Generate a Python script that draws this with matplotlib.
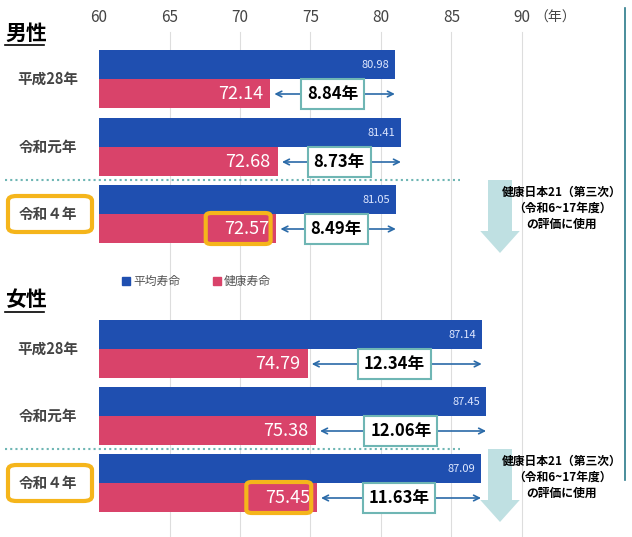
import matplotlib.pyplot as plt
from matplotlib.patches import FancyBboxPatch, FancyArrow

plt.rcParams['font.family'] = 'Noto Sans CJK JP'

years = ['平成28年', '令和元年', '令和４年']
male_life = [80.98, 81.41, 81.05]
male_health = [72.14, 72.68, 72.57]
male_gap = [8.84, 8.73, 8.49]
female_life = [87.14, 87.45, 87.09]
female_health = [74.79, 75.38, 75.45]
female_gap = [12.34, 12.06, 11.63]
ticks = [60, 65, 70, 75, 80, 85, 90]

BLUE = '#1f4fb0'
PINK = '#d9436a'
TEAL = '#6fb6b4'
ORANGE = '#f5b51b'
PX = 14.1   # pixels per year
ORIG = 99   # pixel position of 60

fig = plt.figure(figsize=(6.32, 5.37), dpi=100)
ax = fig.add_axes([0, 0, 1, 1])
x0 = 60 - ORIG / PX
ax.set_xlim(x0, x0 + 632 / PX)
ax.set_ylim(537, 0)
ax.axis('off')

def px(p):
    return x0 + p / PX

for t in ticks:
    if t > 60:
        ax.plot([t, t], [32, 537], color='#dddddd', lw=0.8, zorder=0)
    ax.text(t, 18, str(t), ha='center', va='center', fontsize=11, color='#444444')
ax.text(px(555), 18, '（年）', ha='center', va='center', fontsize=10, color='#444444')
ax.plot([px(625), px(625)], [8, 480], color='#2a7a8a', lw=1.2)

def block(life, health, gap, tops, title, title_y):
    ax.text(px(5), title_y, title, fontsize=15, fontweight='bold', va='center', ha='left')
    ax.plot([px(5), px(44)], [title_y + 12, title_y + 12], color='black', lw=1.2)
    for i, (l, h, g, top) in enumerate(zip(life, health, gap, tops)):
        ax.barh(top + 14.5, l - 60, left=60, height=29, color=BLUE, edgecolor='none')
        ax.barh(top + 43.5, h - 60, left=60, height=29, color=PINK, edgecolor='none')
        ax.text(l - 0.4, top + 15, f'{l:.2f}', ha='right', va='center', fontsize=8, color='#dfe8ff')
        ax.text(h - 0.5, top + 44, f'{h:.2f}', ha='right', va='center', fontsize=13, color='white')
        ym = top + 44
        ax.annotate('', xy=(h + 0.1, ym), xytext=(l + 0.2, ym),
                    arrowprops=dict(arrowstyle='<->', color='#2a6aa8', lw=1.2))
        cx = (h + l) / 2
        ax.text(cx, ym, f'{g:.2f}年', ha='center', va='center', fontsize=12,
                fontweight='bold', bbox=dict(boxstyle='square,pad=0.35', fc='white', ec=TEAL, lw=1.5))
        ax.text(px(48), top + 29, years[i], ha='center', va='center', fontsize=10.5,
                fontweight='bold', color='#444444')
    # highlight latest year
    t = tops[2]
    ax.add_patch(FancyBboxPatch((px(8), t + 11), px(92) - px(8), 36, boxstyle='round,pad=0,rounding_size=0.6',
                                fc='none', ec=ORANGE, lw=3, mutation_aspect=8))
    h = health[2]
    ax.add_patch(FancyBboxPatch((h - 5.0, t + 28), 4.6, 31, boxstyle='round,pad=0,rounding_size=0.4',
                                fc='none', ec=ORANGE, lw=3, mutation_aspect=8))
    ax.plot([px(5), px(460)], [t - 5, t - 5], color=TEAL, lw=1.5, ls=(0, (1, 1.5)))
    ax.add_patch(FancyArrow(px(500), t - 5, 0, 73, width=1.7, head_width=2.8, head_length=22,
                            length_includes_head=True, color='#bfe0e2', lw=0))
    ax.text(px(562), t + 23, '健康日本21（第三次）\n（令和6~17年度）\nの評価に使用', ha='center', va='center',
            fontsize=8.5, fontweight='bold', linespacing=1.3)

block(male_life, male_health, male_gap, [50, 118, 185], '男性', 33)
block(female_life, female_health, female_gap, [320, 387, 454], '女性', 300)

ax.add_patch(plt.Rectangle((px(122), 277), 0.55, 8, color=BLUE))
ax.text(px(133), 281, '平均寿命', va='center', fontsize=8.5, color='#555555')
ax.add_patch(plt.Rectangle((px(213), 277), 0.55, 8, color=PINK))
ax.text(px(224), 281, '健康寿命', va='center', fontsize=8.5, color='#555555')

fig.savefig('out.png', dpi=100)
